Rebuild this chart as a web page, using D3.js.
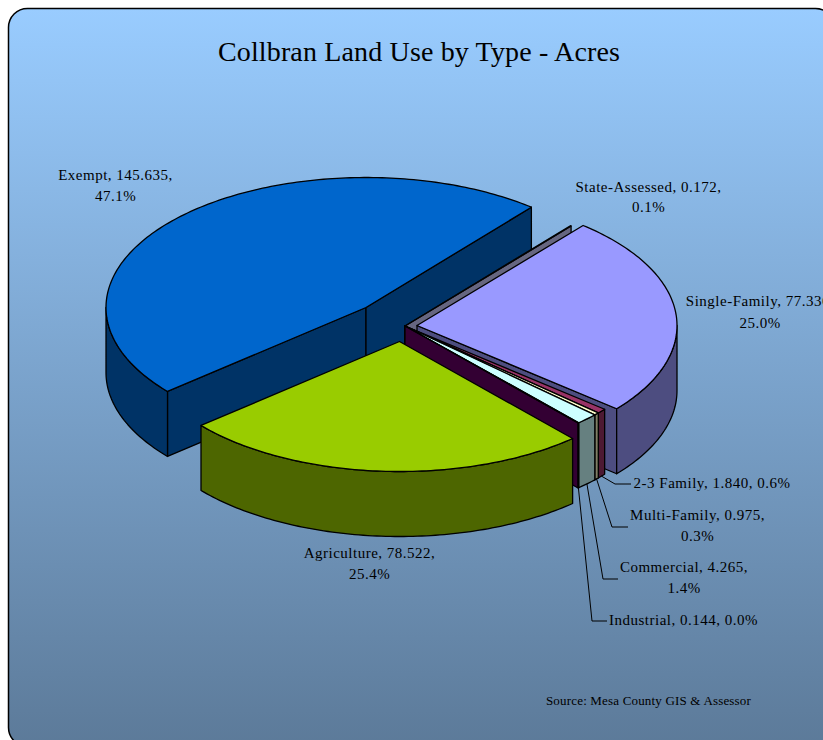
<!DOCTYPE html>
<html>
<head>
<meta charset="utf-8">
<title>Collbran Land Use by Type - Acres</title>
<script src="https://cdn.jsdelivr.net/npm/d3@7"></script>
<style>
    html, body { margin: 0; padding: 0; background: #fff; overflow: hidden; }
    text { font-family: "Liberation Serif", serif; fill: #000; }
</style>
</head>
<body>
<div id="chart"></div>
<script>
const WIDTH = 823;
const HEIGHT = 740;

// pie order, clockwise from the first slice angle
const categories = ['State-Assessed', 'Single-Family', '2-3 Family', 'Multi-Family', 'Commercial', 'Industrial', 'Agriculture', 'Exempt'];
const acres = [0.172, 77.336, 1.840, 0.975, 4.265, 0.144, 78.522, 145.635];
const percents = ['0.1%', '25.0%', '0.6%', '0.3%', '1.4%', '0.0%', '25.4%', '47.1%'];

const topColors = ['#CCCCFF', '#9999FF', '#993366', '#FFFFCC', '#CCFFFF', '#660066', '#99CC00', '#0066CC'];
const wallColors = ['#666680', '#4D4D80', '#4D1A33', '#808066', '#668080', '#330033', '#4D6600', '#003366'];

const CENTER = { x: 405, y: 326 };
const RADIUS = { x: 260, y: 130 };
const DEPTH = 65;
const FIRST_ANGLE = 39.5 * Math.PI / 180;

// how far each slice is pulled out of the pie, in pixels
const explodeX = [0, 12, 0, 0, 0, 0, -5.5, -39];
const explodeY = [0, -0.5, 0, 0, 0, 0, 15.5, -18.5];

// label placement: centre x, baseline of first line, line gap, whether value/percent wrap
const labelLayout = [
    { x: 648.5, y: 192, gap: 20, wrap: true },
    { x: 760, y: 306, gap: 22, wrap: true },
    { x: 712, y: 488, gap: 0, wrap: false },
    { x: 697.5, y: 520, gap: 21, wrap: true },
    { x: 684, y: 572, gap: 21, wrap: true },
    { x: 683.5, y: 625, gap: 0, wrap: false },
    { x: 369.5, y: 558, gap: 21, wrap: true },
    { x: 115.5, y: 180, gap: 21, wrap: true },
];
// elbow and end of the leader lines, by category
const leaders = {
    '2-3 Family': [[615, 484], [631, 484]],
    'Multi-Family': [[612, 527], [628, 527]],
    'Commercial': [[603, 579], [618, 579]],
    'Industrial': [[592, 621], [607, 621]],
};

const svg = d3.select('#chart').append('svg')
    .attr('width', WIDTH)
    .attr('height', HEIGHT)
    .style('display', 'block');

const gradient = svg.append('defs').append('linearGradient')
    .attr('id', 'plate-gradient')
    .attr('x1', '0%').attr('y1', '0%')
    .attr('x2', '0%').attr('y2', '100%');
gradient.append('stop').attr('offset', '0%').attr('stop-color', '#99CCFF');
gradient.append('stop').attr('offset', '100%').attr('stop-color', '#5C7A99');

svg.append('rect')
    .attr('x', 8.5).attr('y', 8.5)
    .attr('width', 826).attr('height', 738)
    .attr('rx', 19).attr('ry', 19)
    .attr('fill', 'url(#plate-gradient)')
    .attr('stroke', '#000')
    .attr('stroke-width', 1.5);

svg.append('text')
    .attr('x', 419).attr('y', 61)
    .attr('text-anchor', 'middle')
    .style('font-size', '28px')
    .style('letter-spacing', '0.15px')
    .text('Collbran Land Use by Type - Acres');

const slices = d3.pie()
    .sort(null)
    .startAngle(FIRST_ANGLE)
    .endAngle(FIRST_ANGLE + 2 * Math.PI)(acres);

const line = d3.line().x(d => d[0]).y(d => d[1]);

// angle is clockwise from 12 o'clock, drop is the distance below the top face
function project(slice, angle, drop) {
    const i = slice.index;
    return [
        CENTER.x + explodeX[i] + RADIUS.x * Math.sin(angle),
        CENTER.y + explodeY[i] - RADIUS.y * Math.cos(angle) + drop,
    ];
}

function arcAngles(a0, a1) {
    const n = Math.max(2, Math.ceil((a1 - a0) / (Math.PI / 180)));
    return d3.range(n + 1).map(i => a0 + (a1 - a0) * i / n);
}

function addFace(g, points, fill) {
    g.append('path')
        .attr('d', line(points) + 'Z')
        .attr('fill', fill)
        .attr('stroke', '#000')
        .attr('stroke-width', 1.3)
        .attr('stroke-linejoin', 'round');
}

function drawSlice(slice) {
    const g = svg.append('g').attr('class', 'slice');
    const i = slice.index;
    const { startAngle: a0, endAngle: a1 } = slice;
    const apex = [CENTER.x + explodeX[i], CENTER.y + explodeY[i]];

    // cut walls that face the viewer
    [[a0, Math.sin(a0) < 0], [a1, Math.sin(a1) > 0]].forEach(([a, visible]) => {
        if (!visible) return;
        addFace(g, [
            apex,
            project(slice, a, 0),
            project(slice, a, DEPTH),
            [apex[0], apex[1] + DEPTH],
        ], wallColors[i]);
    });

    // outer wall: only the part of the rim on the near side
    const from = Math.max(a0, Math.PI / 2);
    const to = Math.min(a1, 3 * Math.PI / 2);
    if (to > from) {
        const rim = arcAngles(from, to);
        addFace(g, [
            ...rim.map(a => project(slice, a, 0)),
            ...rim.slice().reverse().map(a => project(slice, a, DEPTH)),
        ], wallColors[i]);
    }

    addFace(g, [apex, ...arcAngles(a0, a1).map(a => project(slice, a, 0))], topColors[i]);
}

// back to front: the big back slice first, then clockwise round to the near slice
const paintOrder = [7, 0, 1, 2, 3, 4, 5, 6];
paintOrder.forEach(i => drawSlice(slices[i]));

// leader lines start at the bottom of the rim, halfway along the slice
slices.forEach(slice => {
    const bend = leaders[categories[slice.index]];
    if (!bend) return;
    const start = project(slice, (slice.startAngle + slice.endAngle) / 2, DEPTH);
    svg.append('path')
        .attr('d', line([start, ...bend]))
        .attr('fill', 'none')
        .attr('stroke', '#000')
        .attr('stroke-width', 1);
});

const fmt = d3.format('.3f');
categories.forEach((name, i) => {
    const pos = labelLayout[i];
    const head = `${name}, ${fmt(acres[i])},`;
    const lines = pos.wrap ? [head, percents[i]] : [`${head} ${percents[i]}`];
    lines.forEach((text, k) => {
        svg.append('text')
            .attr('x', pos.x)
            .attr('y', pos.y + k * pos.gap)
            .attr('text-anchor', 'middle')
            .style('font-size', '15px')
            .style('letter-spacing', '0.5px')
            .text(text);
    });
});

svg.append('text')
    .attr('x', 648.5).attr('y', 705)
    .attr('text-anchor', 'middle')
    .style('font-size', '13px')
    .style('letter-spacing', '0.18px')
    .text('Source: Mesa County GIS & Assessor');
</script>
</body>
</html>
